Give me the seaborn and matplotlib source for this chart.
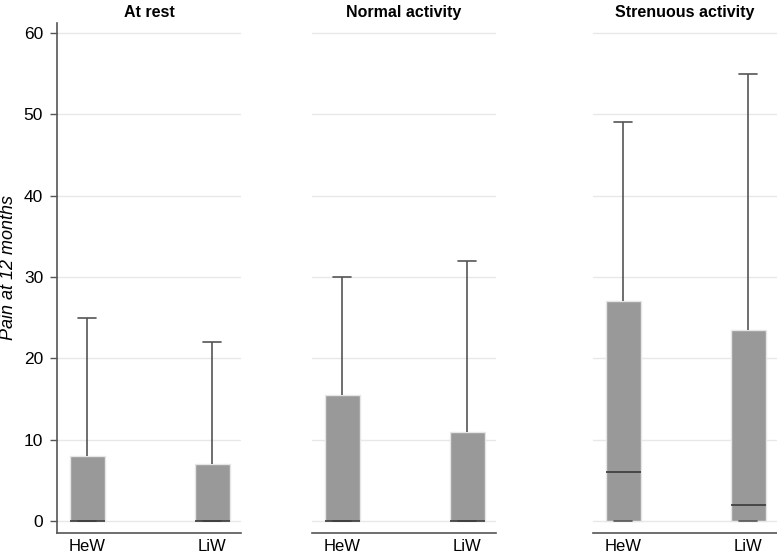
import numpy as np
import pandas as pd
import matplotlib
matplotlib.use("Agg")
import matplotlib.pyplot as plt
import seaborn as sns

panels = ["At rest", "Normal activity", "Strenuous activity"]
groups = ["HeW", "LiW"]
# five-number summaries per panel, per group (HeW, LiW)
mins    = [[0, 0], [0, 0], [0, 0]]
q1s     = [[0, 0], [0, 0], [0, 0]]
medians = [[0, 0], [0, 0], [6, 2]]
q3s     = [[8, 7], [15.5, 11], [27, 23.5]]
maxs    = [[25, 22], [30, 32], [49, 55]]
yticks = [0, 10, 20, 30, 40, 50, 60]

rows = []
for p, panel in enumerate(panels):
    for g, grp in enumerate(groups):
        for v in (mins[p][g], q1s[p][g], medians[p][g], q3s[p][g], maxs[p][g]):
            rows.append({"panel": panel, "group": grp, "pain": v})
df = pd.DataFrame(rows)

sns.set_style("white")
plt.rcParams["font.family"] = ["Liberation Sans", "DejaVu Sans"]
plt.rcParams["text.color"] = "black"

fig = plt.figure(figsize=(7.77, 5.54), dpi=100)
lefts = [57 / 777, 312 / 777, 593 / 777]
w = 184 / 777
bottom = 1 - 533 / 554
height = (533 - 23) / 554
spine_col = "#555555"

for i, panel in enumerate(panels):
    ax = fig.add_axes([lefts[i], bottom, w, height])
    sub = df[df["panel"] == panel]
    sns.boxplot(data=sub, x="group", y="pain", order=groups, ax=ax,
                whis=(0, 100), width=0.28, color="#999999", saturation=1,
                linewidth=1.2,
                boxprops=dict(facecolor="#999999", edgecolor="#e6e6e6", linewidth=1),
                medianprops=dict(color="#3a3a3a", linewidth=1.2),
                whiskerprops=dict(color="#555555", linewidth=1.2),
                capprops=dict(color="#555555", linewidth=1.2),
                showfliers=False)
    ax.set_xlim(-0.24, 1.23)
    ax.set_ylim(-1.475, 61.23)
    ax.set_yticks(yticks)
    ax.yaxis.grid(True, color="#e8e8e8", linewidth=1)
    ax.set_axisbelow(True)
    ax.set_xlabel("")
    ax.set_title(panel, fontsize=11.5, fontweight="bold", pad=4, color="black")
    ax.tick_params(axis="x", length=0, labelsize=12, labelcolor="black", pad=4)
    for s in ("top", "right"):
        ax.spines[s].set_visible(False)
    ax.spines["bottom"].set_color(spine_col)
    ax.spines["bottom"].set_linewidth(1.2)
    if i == 0:
        ax.spines["left"].set_color(spine_col)
        ax.spines["left"].set_linewidth(1.2)
        ax.tick_params(axis="y", length=5, width=1, color=spine_col,
                       labelsize=12.5, labelcolor="black", left=True, pad=5)
        ax.set_ylabel("Pain at 12 months", fontsize=13, fontstyle="italic",
                      color="black")
        ax.yaxis.set_label_coords(-0.217, 0.52)
    else:
        ax.spines["left"].set_visible(False)
        ax.tick_params(axis="y", left=False, labelleft=False)
        ax.set_ylabel("")

fig.savefig("out.png", dpi=100)
